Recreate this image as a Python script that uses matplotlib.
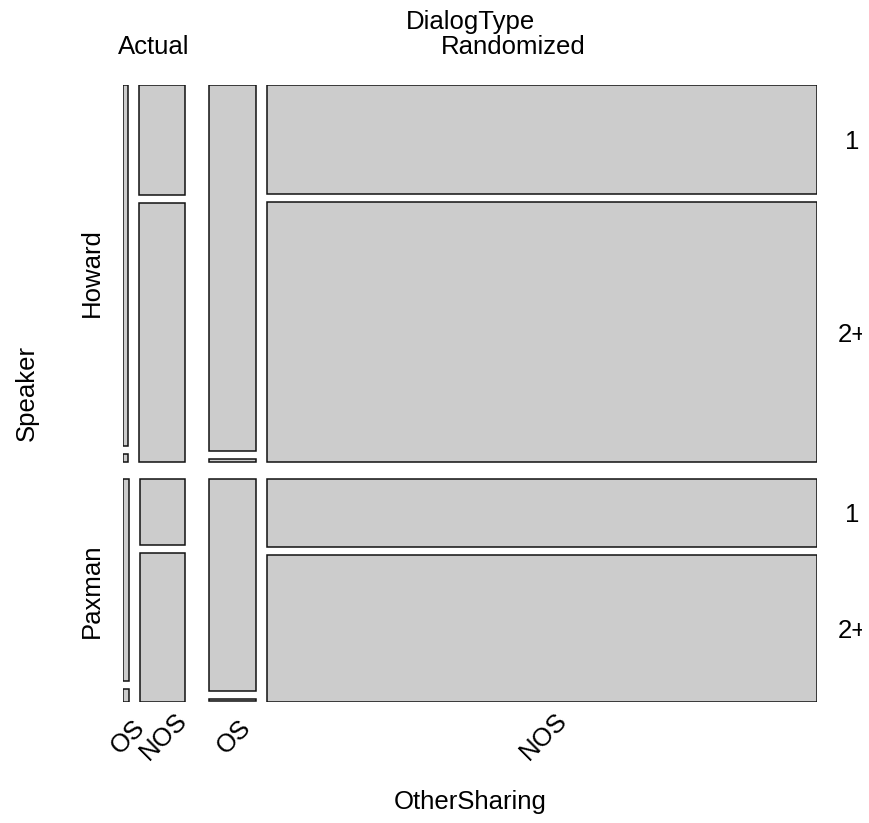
import numpy as np
import matplotlib
matplotlib.use('Agg')
import matplotlib.pyplot as plt
from matplotlib.patches import Rectangle
from matplotlib.transforms import offset_copy, Bbox, TransformedBbox

# mosaic of DialogType x Speaker x OtherSharing x count group (estimated counts)
dialog_types = ['Actual', 'Randomized']
speakers = ['Howard', 'Paxman']
sharing = ['OS', 'NOS']
groups = ['1', '2+']

# [speaker][sharing] -> [n_1, n_2+]
counts_actual = [[[90, 2], [307, 720]],
                 [[62, 4], [182, 412]]]
counts_randomized = [[[873, 6], [3061, 7211]],
                     [[511, 7], [1906, 4153]]]

tab = np.array([counts_actual, counts_randomized], dtype=float)

plt.rc('font', family=['Liberation Sans', 'DejaVu Sans'], size=18.5)

fig = plt.figure(figsize=[8.7, 8.23], dpi=100)
W, H = 870, 823
ax = fig.add_axes([123.5 / W, 1 - 701.5 / H, 694 / W, 617 / H])
ax.set_xlim(0, 1)
ax.set_ylim(1, 0)
ax.axis('off')

dirs = ['v', 'h', 'v', 'h']
gaps = [24 / 694, 17.5 / 617, 11 / 694, 8 / 617]

cells = {}  # index tuple -> (x0, y0, x1, y1)


def mosaic(t, x0, y0, x1, y1, idx):
    level = len(idx)
    cells[idx] = (x0, y0, x1, y1)
    if level == 4:
        ax.add_patch(Rectangle((x0, y0), x1 - x0, y1 - y0, facecolor='#cccccc',
                               edgecolor='#111111', linewidth=1.1))
        return
    n = t.reshape(t.shape[0], -1).sum(axis=1)
    frac = n / n.sum()
    g = gaps[level]
    k = len(n)
    if dirs[level] == 'v':
        avail = (x1 - x0) - g * (k - 1)
        pos = x0
        for i in range(k):
            w = avail * frac[i]
            mosaic(t[i], pos, y0, pos + w, y1, idx + (i,))
            pos += w + g
    else:
        avail = (y1 - y0) - g * (k - 1)
        pos = y0
        for i in range(k):
            h = avail * frac[i]
            mosaic(t[i], x0, pos, x1, pos + h, idx + (i,))
            pos += h + g


mosaic(tab, 0, 0, 1, 1, ())


def lab(x, y, s, dx=0, dy=0, rot=0, **kw):
    tr = offset_copy(ax.transData, fig=fig, x=dx, y=dy, units='dots')
    return ax.text(x, y, s, transform=tr, rotation=rot, rotation_mode='anchor',
                   ha='center', va='center_baseline', clip_on=False, **kw)


# top: DialogType
lab(0.5, 0, 'DialogType', dy=65.2)
for i, name in enumerate(dialog_types):
    x0, y0, x1, y1 = cells[(i,)]
    lab((x0 + x1) / 2, 0, name, dy=40.2)

# left: Speaker
lab(0, 0.5, 'Speaker', dx=-99.5, rot=90)
for j, name in enumerate(speakers):
    x0, y0, x1, y1 = cells[(0, j)]
    lab(0, (y0 + y1) / 2, name, dx=-34, rot=90)

# bottom: OtherSharing
lab(0.5, 1, 'OtherSharing', dy=-97.5)
for i in range(len(dialog_types)):
    for k, name in enumerate(sharing):
        x0, y0, x1, y1 = cells[(i, len(speakers) - 1, k)]
        lab((x0 + x1) / 2, 1, name, dy=-33.5, rot=45)

# right: count groups (from last column)
clip = TransformedBbox(Bbox.from_extents(0, 0, 862.5 / W, 1), fig.transFigure)
for j in range(len(speakers)):
    for m, name in enumerate(groups):
        x0, y0, x1, y1 = cells[(len(dialog_types) - 1, j, len(sharing) - 1, m)]
        t = lab(1, (y0 + y1) / 2, name, dx=34.5)
        t.set_clip_on(True)
        t.set_clip_box(clip)

plt.savefig('out.png', dpi=100)
